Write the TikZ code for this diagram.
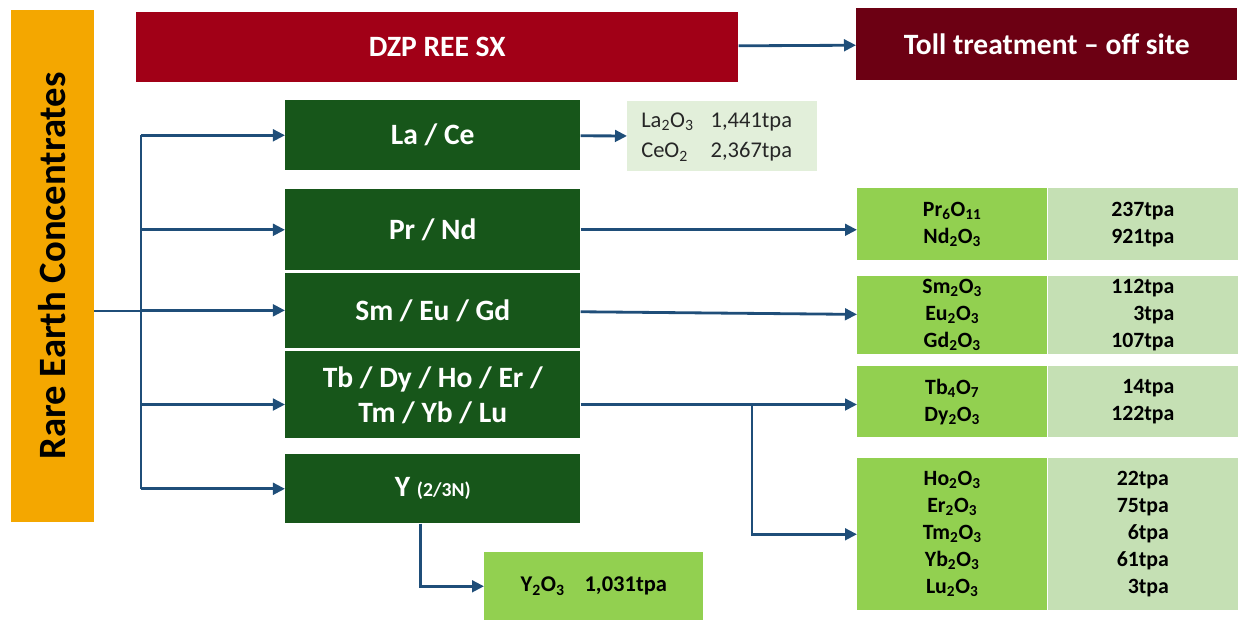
\documentclass[tikz,border=0pt]{standalone}
\usepackage{fontspec}
\setmainfont{Carlito}
\usepackage{xcolor}
\definecolor{feedorange}{HTML}{F4A700}
\definecolor{sxred}{HTML}{A10017}
\definecolor{tollred}{HTML}{6C0013}
\definecolor{sepgreen}{HTML}{17561A}
\definecolor{oxgreen}{HTML}{92D050}
\definecolor{valgreen}{HTML}{C5E0B4}
\definecolor{palegreen}{HTML}{E2EFDA}
\definecolor{flowblue}{HTML}{1F4E79}
\usepackage{tikz}
\usetikzlibrary{arrows.meta, positioning}
\newlength{\pxu}\setlength{\pxu}{0.025cm}
\newcommand{\sbs}[1]{\textsubscript{#1}}
\newcommand{\bigfont}{\fontsize{21}{25}\selectfont\bfseries}
\newcommand{\oxfont}{\fontsize{15.5}{19.2}\selectfont\bfseries}
\tikzset{
  >={Triangle[length=3mm, width=2.9mm]},
  box/.style={inner sep=0pt, align=center, text=white, font=\bigfont},
  sepbox/.style={box, fill=sepgreen, minimum width=295*\pxu, anchor=north west},
  oxcell/.style={box, fill=oxgreen, text=black, font=\oxfont, minimum width=190*\pxu},
  valcell/.style={box, fill=valgreen, text=black, font=\oxfont, minimum width=190*\pxu, align=right},
  flow/.style={line width=2pt, draw=flowblue},
}

\begin{document}
\begin{tikzpicture}[x=0.025cm, y=-0.025cm]
  \useasboundingbox (0,0) rectangle (1239,621);

  % feed and top row
  \node[box, fill=feedorange, text=black, rotate=90, font=\fontsize{27.5}{32}\selectfont\bfseries,
    minimum width=512*\pxu, minimum height=83*\pxu] (feed) at (52.5,266) {Rare Earth Concentrates};
  \node[box, fill=sxred, anchor=north west, minimum width=602*\pxu, minimum height=70*\pxu]
    (sx) at (136,12) {DZP REE SX};
  \node[box, fill=tollred, anchor=north west, minimum width=381*\pxu, minimum height=72*\pxu]
    (toll) at (856,8) {Toll treatment -- off site};

  % separation groups
  \node[sepbox, minimum height=70*\pxu] (lace) at (285,100) {La / Ce};
  \node[sepbox, minimum height=81*\pxu] (prnd) at (285,189) {Pr / Nd};
  \node[sepbox, minimum height=75*\pxu, below=0.05cm of prnd] (smgd) {Sm / Eu / Gd};
  \node[sepbox, minimum height=87*\pxu, below=0.075cm of smgd] (hree)
    {Tb / Dy / Ho / Er /\\Tm / Yb / Lu};
  \node[sepbox, minimum height=69*\pxu] (yt) at (285,454)
    {Y {\fontsize{14}{17}\selectfont (2/3N)}};

  % products
  \node[box, fill=palegreen, text=black!85, font=\fontsize{16}{22}\selectfont, anchor=north west,
    minimum width=190*\pxu, minimum height=70*\pxu] (laox) at (627,101)
    {\begin{tabular}{@{}l@{\hspace{12pt}}l@{}}La\sbs{2}O\sbs{3} & 1,441tpa\\CeO\sbs{2} & 2,367tpa\end{tabular}\hspace{8pt}};

  \node[oxcell, anchor=north west, minimum height=72*\pxu] (prox) at (857,188)
    {Pr\sbs{6}O\sbs{11}\\Nd\sbs{2}O\sbs{3}};
  \node[valcell, right=0pt of prox, minimum height=72*\pxu] (prval) {237tpa\\921tpa};

  \node[oxcell, anchor=north west, minimum height=78*\pxu] (smox) at (857,276)
    {Sm\sbs{2}O\sbs{3}\\Eu\sbs{2}O\sbs{3}\\Gd\sbs{2}O\sbs{3}};
  \node[valcell, right=0pt of smox, minimum height=78*\pxu] (smval) {112tpa\\3tpa\\107tpa};

  \node[oxcell, anchor=north west, minimum height=71*\pxu] (tbox) at (857,366)
    {Tb\sbs{4}O\sbs{7}\\Dy\sbs{2}O\sbs{3}};
  \node[valcell, right=0pt of tbox, minimum height=71*\pxu] (tbval) {14tpa\\122tpa};

  \node[oxcell, anchor=north west, minimum height=152*\pxu] (hoox) at (857,458)
    {Ho\sbs{2}O\sbs{3}\\Er\sbs{2}O\sbs{3}\\Tm\sbs{2}O\sbs{3}\\Yb\sbs{2}O\sbs{3}\\Lu\sbs{2}O\sbs{3}};
  \node[valcell, right=0pt of hoox, minimum height=152*\pxu] (hoval) {22tpa\\75tpa\\6tpa\\61tpa\\3tpa};

  \node[box, fill=oxgreen, text=black, font=\fontsize{16}{19}\selectfont\bfseries, anchor=north west,
    minimum width=219*\pxu, minimum height=68*\pxu] (yox) at (484,552)
    {Y\sbs{2}O\sbs{3}\hspace{14pt}1,031tpa};

  % connectors
  \coordinate (j) at (141,311);
  \coordinate (k) at (752,0);
  \coordinate (tbin) at ([yshift=-0.24cm]hree.west);
  \coordinate (tbout) at ([yshift=-0.24cm]hree.east);
  \draw[flow] (feed.south |- j) -- (j);
  \draw[flow] (lace.west -| j) -- (yt.west -| j);
  \foreach \n in {lace, prnd, smgd, yt, tbin}
    \draw[flow, ->] (\n.west -| j) -- (\n.west);
  \draw[flow, ->] (sx) -- (toll);
  \draw[flow, ->] (lace) -- (laox);
  \draw[flow, ->] (prnd.east) -- (prnd.east -| prox.west);
  \draw[flow, ->] (smgd) -- (smox);
  \draw[flow, ->] (tbout) -- (tbout -| tbox.west);
  \draw[flow, ->] (tbout -| k) |- (hoox.west);
  \draw[flow, ->] ([xshift=-0.3cm]yt.south) |- (yox.west);
\end{tikzpicture}
\end{document}
